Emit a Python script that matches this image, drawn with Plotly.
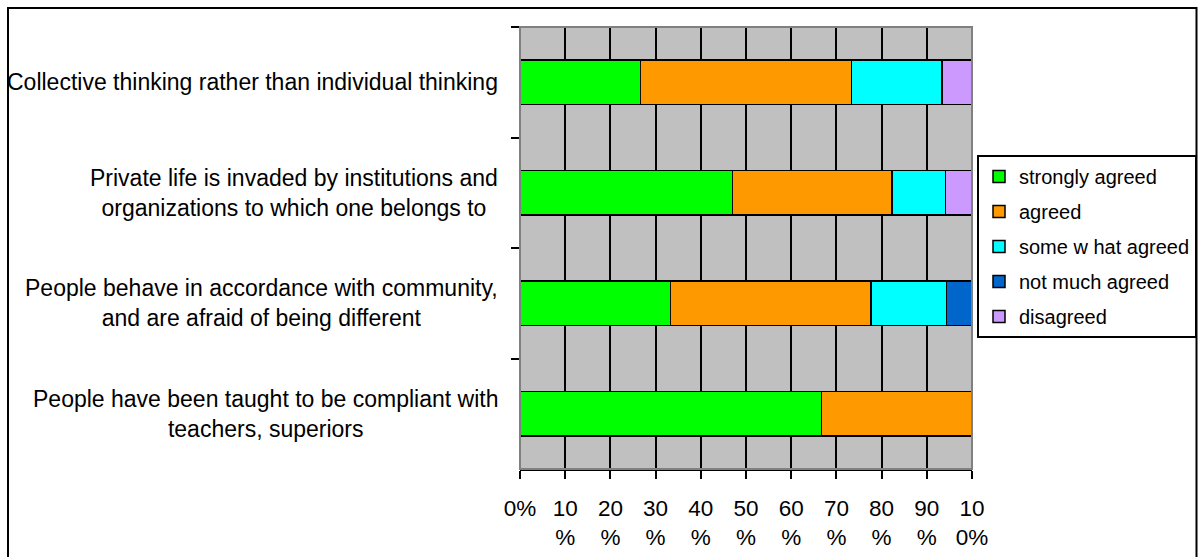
import plotly.graph_objects as go

# Survey statements, listed top to bottom
statements = [
    "Collective thinking rather than individual thinking",
    "Private life is invaded by institutions and<br>organizations to which one belongs to",
    "People behave in accordance with community,<br>and are afraid of being different",
    "People have been taught to be compliant with<br>teachers, superiors",
]
cat_ids = ["s1", "s2", "s3", "s4"]

# Response shares (%) per statement
strongly_agreed = [26.7, 47.1, 33.3, 66.7]
agreed = [46.7, 35.3, 44.4, 33.3]
somewhat_agreed = [20.0, 11.8, 16.7, None]
not_much_agreed = [None, None, 5.6, None]
disagreed = [6.7, 5.9, None, None]

series_names = ["strongly agreed", "agreed", "some w hat agreed", "not much agreed", "disagreed"]
series_values = [strongly_agreed, agreed, somewhat_agreed, not_much_agreed, disagreed]
series_colors = ["#00FF00", "#FF9900", "#00FFFF", "#0066CC", "#CC99FF"]

x_ticks = [0, 10, 20, 30, 40, 50, 60, 70, 80, 90, 100]
x_ticktext = ["0%", "10<br>%", "20<br>%", "30<br>%", "40<br>%", "50<br>%",
              "60<br>%", "70<br>%", "80<br>%", "90<br>%", "10<br>0%"]

FONT = "Liberation Sans, Arial, sans-serif"

fig = go.Figure()
for i, (name, vals, col) in enumerate(zip(series_names, series_values, series_colors)):
    fig.add_trace(go.Bar(
        y=cat_ids, x=vals, name=name, orientation="h",
        marker=dict(color=col, line=dict(color="#000000", width=1.5)),
        legendgroup=f"g{i}",
        hoverinfo="skip",
    ))

# Category labels: right-aligned block with centred lines
annotations = []
for cid, text in zip(cat_ids, statements):
    annotations.append(dict(
        x=0, xref="paper", y=cid, yref="y",
        xanchor="right", yanchor="middle", xshift=-20,
        text=text, showarrow=False, align="center",
        font=dict(family=FONT, size=23, color="#000000"),
    ))

L, R, T, B = 520, 227, 27, 88
W, H = 1199, 557
pw, ph = W - L - R, H - T - B

def px_x(p):
    return (p - L) / pw

def px_y(p):
    return (H - B - p) / ph

shapes = [
    # plot frame
    dict(type="rect", xref="paper", yref="paper", x0=0, x1=1, y0=0, y1=1,
         line=dict(color="#808080", width=2), layer="above"),
    # outer chart border
    dict(type="rect", xref="paper", yref="paper",
         x0=px_x(8), x1=px_x(1196.5), y0=px_y(565), y1=px_y(8),
         line=dict(color="#000000", width=2), layer="below"),
]

fig.update_layout(
    width=W, height=H,
    margin=dict(l=L, r=R, t=T, b=B, pad=0, autoexpand=False),
    paper_bgcolor="#FFFFFF",
    plot_bgcolor="#C0C0C0",
    barmode="stack",
    barnorm="percent",
    bargap=0.6,
    font=dict(family=FONT, size=22, color="#000000"),
    showlegend=True,
    legend=dict(
        x=px_x(977), y=px_y(155), xanchor="left", yanchor="top",
        bordercolor="#000000", borderwidth=2, bgcolor="#FFFFFF",
        font=dict(family=FONT, size=20, color="#000000"),
        traceorder="grouped", tracegroupgap=6,
        itemclick=False, itemdoubleclick=False,
    ),
    xaxis=dict(
        range=[0, 100], tickvals=x_ticks, ticktext=x_ticktext,
        showgrid=True, gridcolor="#000000", gridwidth=2,
        ticks="outside", ticklen=8, tickwidth=2, tickcolor="#000000",
        ticklabelstandoff=10,
        showline=True, linecolor="#000000", linewidth=2,
        zeroline=False, fixedrange=True,
        tickfont=dict(family=FONT, size=22.5, color="#000000"),
    ),
    yaxis=dict(
        type="category", autorange="reversed",
        tickson="boundaries", ticks="outside", ticklen=8, tickwidth=2,
        tickcolor="#000000", showticklabels=False, showgrid=False,
        showline=False, zeroline=False, fixedrange=True,
    ),
    annotations=annotations,
    shapes=shapes,
)

fig.write_html("out.html", config={"displayModeBar": False})
